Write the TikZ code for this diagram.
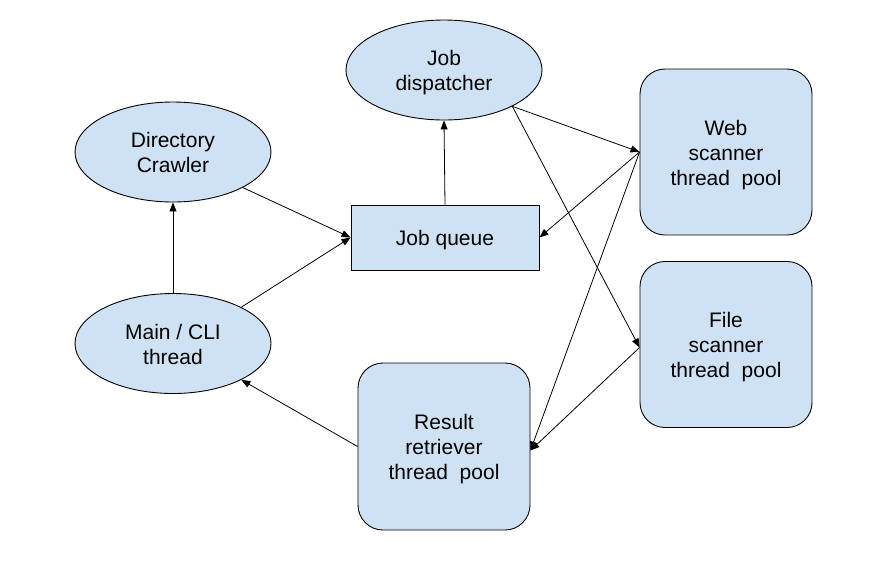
\documentclass[tikz,border=0pt]{standalone}
\usepackage{fontspec}
\setmainfont{Liberation Sans}
\usetikzlibrary{shapes.geometric,arrows.meta}
\definecolor{boxblue}{HTML}{CFE2F3}
\newcommand{\lbltxt}[1]{\raisebox{-3pt}[\height][\depth]{\begin{tabular}{@{}c@{}}#1\end{tabular}}}
\tikzset{
  base/.style={draw=black, fill=boxblue, line width=0.9pt, align=center, inner sep=0pt,
    font=\fontsize{21}{25}\selectfont},
  ell/.style={base, ellipse, minimum width=196pt, minimum height=100pt},
  rbox/.style={base, rectangle, rounded corners=25pt, minimum width=172pt, minimum height=166pt},
  qbox/.style={base, rectangle, minimum width=188pt, minimum height=65pt},
  conn/.style={line width=0.8pt, -{Triangle[length=9pt,width=7pt]}}
}
\begin{document}
\begin{tikzpicture}[x=1pt,y=-1pt]
\useasboundingbox (0,0) rectangle (891,582);
\node[ell] (dp) at (444,70) {\lbltxt{Job\\dispatcher}};
\node[ell] (dc) at (173,152) {\lbltxt{Directory\\Crawler}};
\node[ell] (main) at (173,343.5) {\lbltxt{Main / CLI\\thread}};
\node[qbox] (jq) at (445,237.5) {\lbltxt{Job queue}};
\node[rbox] (web) at (726,152) {\lbltxt{Web\\scanner\\thread~~pool}};
\node[rbox] (file) at (726,344.5) {\lbltxt{File\\scanner\\thread~~pool}};
\node[rbox, minimum height=167pt] (res) at (444,446.5) {\lbltxt{Result\\retriever\\thread~~pool}};

\draw[conn] (dc.-27) -- (jq.west);
\draw[conn] (main.28) -- (jq.west);
\draw[conn] (main.north) -- (dc.south);
\draw[conn] (jq.north) -- (dp.south);
\draw[conn] (dp.-28) -- (web.west);
\draw[conn] (dp.-28) -- ([yshift=-3pt]file.west);
\draw[conn] (web.west) -- (jq.east);
\draw[conn] (web.west) -- ([yshift=-4pt]res.east);
\draw[conn] ([yshift=-3pt]file.west) -- ([yshift=-4pt]res.east);
\draw[conn] (res.west) -- (main.-28);
\end{tikzpicture}
\end{document}
